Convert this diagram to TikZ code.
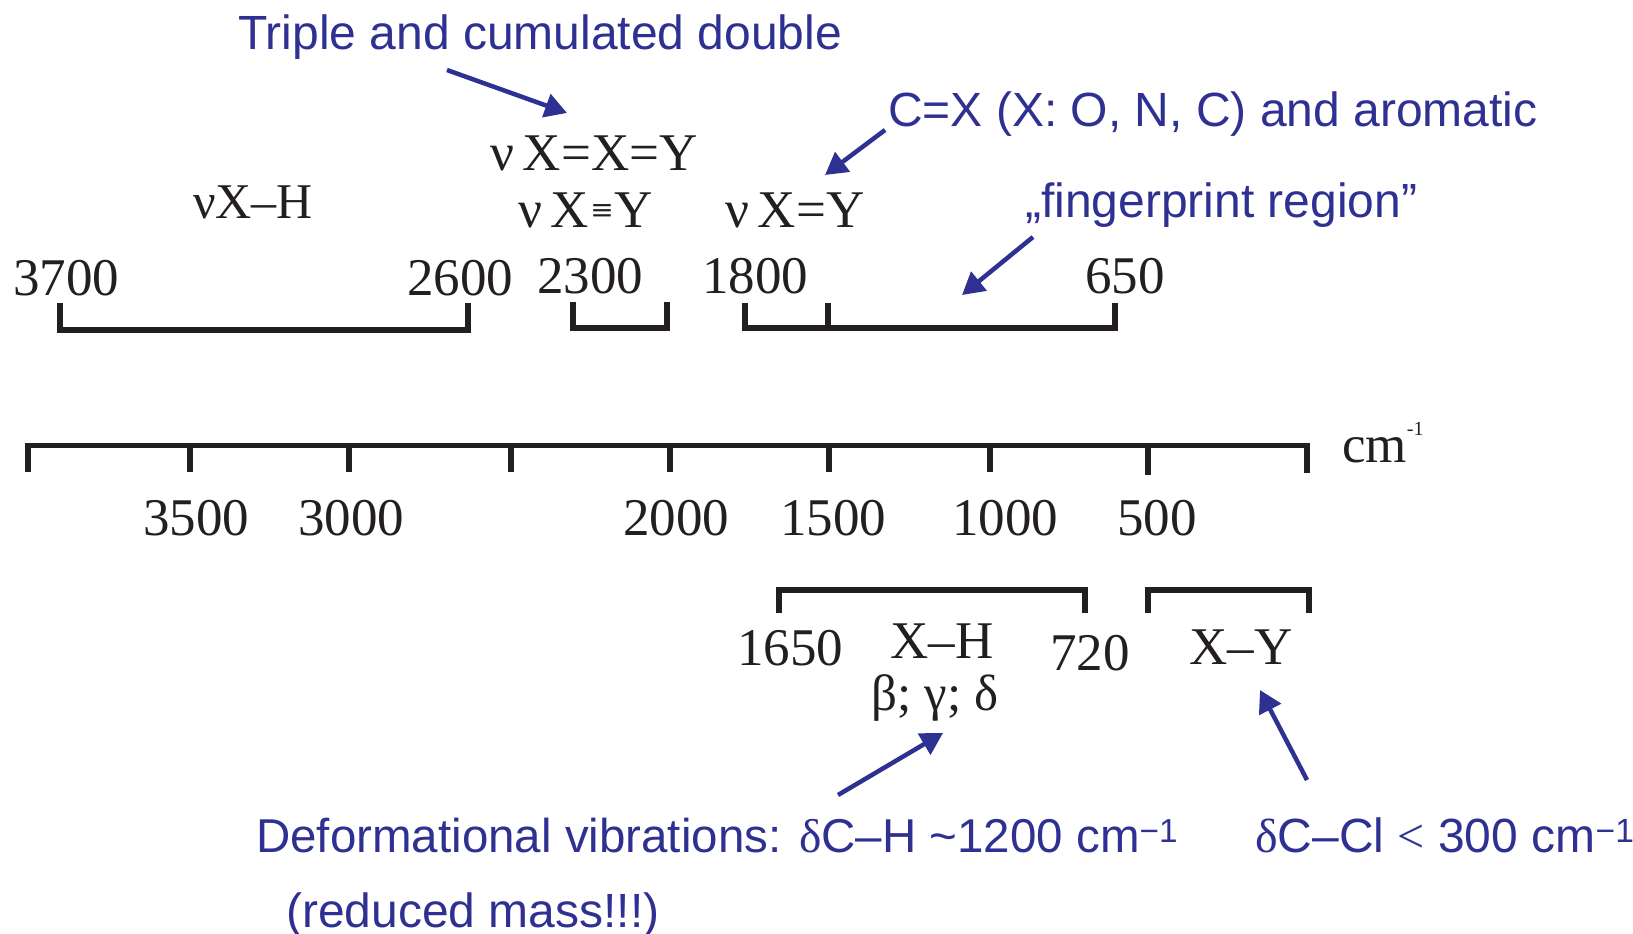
\documentclass[tikz,border=0pt]{standalone}
\usepackage{fontspec}
\usepackage{graphicx}
\setmainfont{Liberation Serif}
\newfontfamily\sansf{Liberation Sans}
\newfontfamily\dvserif{DejaVu Serif}
\usetikzlibrary{arrows.meta}
\definecolor{ink}{HTML}{231F20}
\definecolor{navy}{HTML}{2E3192}
\tikzset{
  lab/.style={inner sep=0pt, text=ink, font=\fontsize{53}{60}\selectfont, anchor=base},
  labw/.style={inner sep=0pt, text=ink, font=\fontsize{53}{60}\selectfont, anchor=base west},
  note/.style={inner sep=0pt, text=navy, font=\sansf\fontsize{48}{56}\selectfont, anchor=base west},
  rule/.style={draw=ink, line width=5.5pt, line join=miter},
  pointer/.style={draw=navy, line width=4.5pt, -{Triangle[length=22pt,width=24pt]}},
}
\newcommand\tripleeq{\hspace{1pt}\raisebox{8pt}{\dvserif\fontsize{28}{28}\selectfont ≡}\hspace{1pt}}
\begin{document}
\begin{tikzpicture}[x=1pt,y=-1pt]
\useasboundingbox (0,0) rectangle (1633,934);

% blue notes
\node[note] (trip) at (238,50) {Triple and cumulated double};
\node[note] (cx) at (888,126) {C=X (X: O, N, C) and aromatic};
\node[note] (fp) at (1025,217) {„fingerprint region”};
\node[note, font=\sansf\fontsize{47.5}{56}\selectfont] (deform) at (256,852) {Deformational vibrations: {\rmfamily δ}C–H \textasciitilde1200 cm\textsuperscript{−1}};
\node[note] (reduced) at (286,927) {(reduced mass!!!)};
\node[note] (dccl) at (1255,852) {{\rmfamily δ}C–Cl {\rmfamily <} 300 cm\textsuperscript{−1}};

% upper assignments
\node[labw, font=\fontsize{50}{56}\selectfont] (xh) at (193,218) {νX–H};
\node[labw] (xxy) at (490,170) {ν\,X=X=Y};
\node[labw] (xty) at (518,227) {ν\,X\tripleeq Y};
\node[labw] (xy) at (725,227) {ν\,X=Y};

\node[lab] (n3700) at (66,295) {3700};
\node[lab] (n2600) at (460,295) {2600};
\node[lab] (n2300) at (590,293) {2300};
\node[lab] (n1800) at (755,293) {1800};
\node[lab] (n650) at (1125,293) {650};

% upper brackets
\draw[rule] (60,303) -- (60,330) -- (468,330) -- (468,303);
\draw[rule] (573,302) -- (573,328) -- (667,328) -- (667,302);
\draw[rule] (745,303) -- (745,328) -- (1115,328) -- (1115,303);
\draw[rule] (828,303) -- (828,328);

% axis
\draw[rule] (28,472) -- (28,445.5) -- (1307,445.5) -- (1307,473);
\foreach \x in {190,349,511,670,829,990}{\draw[rule] (\x,445) -- (\x,472);}
\draw[rule] (1148,445) -- (1148,475);
\node[labw] (unit) at (1342,462) {cm\raisebox{27pt}{\fontsize{20}{22}\selectfont -1}};

\node[lab] (a3500) at (196,535) {3500};
\node[lab] (a3000) at (351,535) {3000};
\node[lab] (a2000) at (676,535) {2000};
\node[lab] (a1500) at (833,535) {1500};
\node[lab] (a1000) at (1005,535) {1000};
\node[lab] (a500) at (1157,535) {500};

% lower brackets
\draw[rule] (779,613) -- (779,590) -- (1085,590) -- (1085,613);
\draw[rule] (1148,613) -- (1148,590) -- (1309,590) -- (1309,613);

\node[lab] (n1650) at (790,665) {1650};
\node[lab] (xh2) at (942,658) {X–H};
\node[lab] (n720) at (1090,670) {720};
\node[lab, font=\fontsize{51}{56}\selectfont] (bgd) at (935,710) {β; γ; δ};
\node[lab] (xy2) at (1241,664) {X–Y};

% pointers
\coordinate (p1s) at (447,70);  \coordinate (p1e) at (567,113);
\coordinate (p2s) at (885,130); \coordinate (p2e) at (825,175);
\coordinate (p3s) at (1033,237); \coordinate (p3e) at (962,295);
\coordinate (p4s) at (838,795); \coordinate (p4e) at (943,733);
\coordinate (p5s) at (1307,780); \coordinate (p5e) at (1260,690);
\draw[pointer] (p1s) -- (p1e);
\draw[pointer] (p2s) -- (p2e);
\draw[pointer] (p3s) -- (p3e);
\draw[pointer] (p4s) -- (p4e);
\draw[pointer] (p5s) -- (p5e);
\end{tikzpicture}
\end{document}
